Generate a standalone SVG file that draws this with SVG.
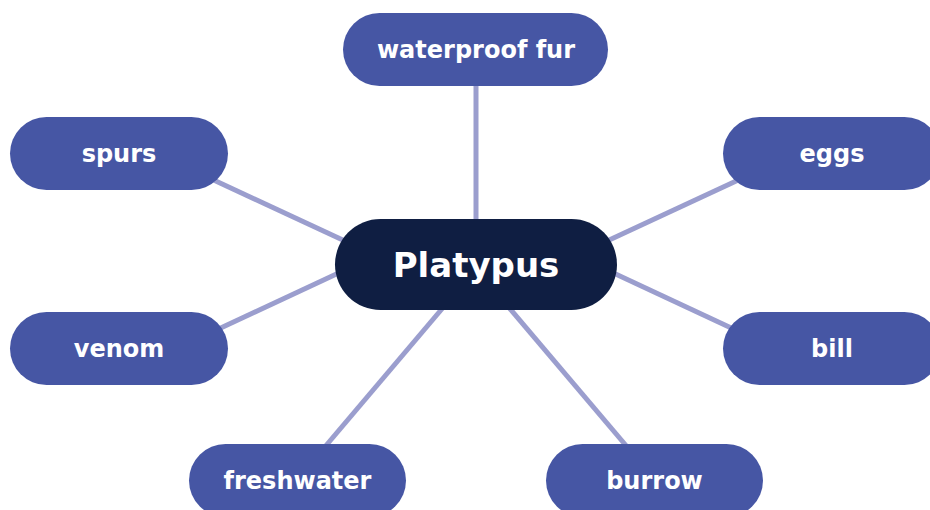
<svg xmlns="http://www.w3.org/2000/svg" width="930" height="510" viewBox="0 0 930 510">
<style>
.edge{stroke:#9b9ece;stroke-width:5;fill:none}
.leaf{fill:#4656a4}
.hub{fill:#0f1e42}
.lbl{font-family:"DejaVu Sans","Liberation Sans",sans-serif;font-weight:bold;fill:#ffffff;text-anchor:middle;font-size:24px}
.hubl{font-size:34px}
</style>
<rect width="930" height="510" fill="#ffffff"/>
<g id="connectors">
<line class="edge" x1="476" y1="80" x2="476" y2="230"/>
<line class="edge" x1="190" y1="169" x2="360" y2="248"/>
<line class="edge" x1="762" y1="169" x2="592" y2="248"/>
<line class="edge" x1="195" y1="340" x2="360" y2="263"/>
<line class="edge" x1="757" y1="340" x2="592" y2="263"/>
<line class="edge" x1="318" y1="455" x2="452" y2="297"/>
<line class="edge" x1="634" y1="455" x2="500" y2="297"/>
</g>
<g id="node-waterproof-fur">
<rect class="leaf" x="343" y="13" width="265" height="73" rx="36.5"/>
<text class="lbl" x="476" y="57.5">waterproof fur</text>
</g>
<g id="node-spurs">
<rect class="leaf" x="10" y="117" width="218" height="73" rx="36.5"/>
<text class="lbl" x="119" y="162">spurs</text>
</g>
<g id="node-eggs">
<rect class="leaf" x="723" y="117" width="218" height="73" rx="36.5"/>
<text class="lbl" x="832" y="162">eggs</text>
</g>
<g id="node-venom">
<rect class="leaf" x="10" y="312" width="218" height="73" rx="36.5"/>
<text class="lbl" x="119" y="357">venom</text>
</g>
<g id="node-bill">
<rect class="leaf" x="723" y="312" width="218" height="73" rx="36.5"/>
<text class="lbl" x="832" y="357">bill</text>
</g>
<g id="node-freshwater">
<rect class="leaf" x="189" y="444" width="217" height="73" rx="36.5"/>
<text class="lbl" x="297.5" y="489">freshwater</text>
</g>
<g id="node-burrow">
<rect class="leaf" x="546" y="444" width="217" height="73" rx="36.5"/>
<text class="lbl" x="654.5" y="489">burrow</text>
</g>
<g id="node-platypus">
<rect class="hub" x="335" y="219" width="282" height="91" rx="45.5"/>
<text class="lbl hubl" x="476" y="277">Platypus</text>
</g>
</svg>
